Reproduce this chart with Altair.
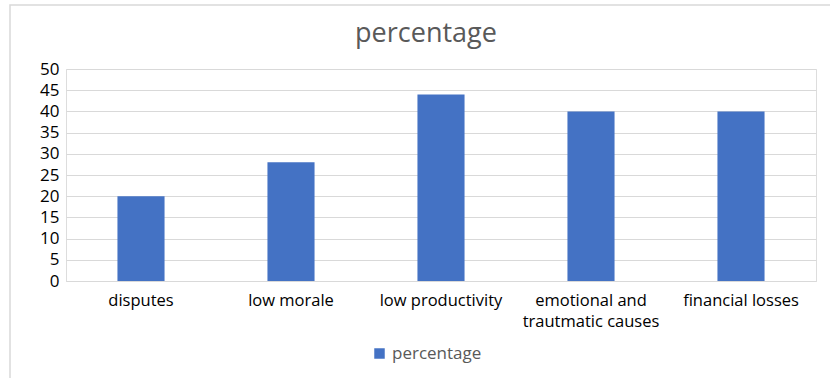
import altair as alt
import pandas as pd

# Share of respondents citing each consequence (%)
categories = ["disputes", "low morale", "low productivity",
              "emotional and trautmatic causes", "financial losses"]
values = [20, 28, 44, 40, 40]
series_name = ["percentage"] * len(categories)

df = pd.DataFrame({"category": categories, "value": values, "series": series_name})

FONT = "Open Sans"
TEXT = "#595959"
GRID = "#d9d9d9"
BLUE = "#4472C4"

bars = alt.Chart(df).mark_bar(color=BLUE).encode(
    x=alt.X(
        "category:N",
        sort=categories,
        title=None,
        scale=alt.Scale(paddingInner=0.686, paddingOuter=0.343),
        axis=alt.Axis(
            labelAngle=0,
            ticks=False,
            domainColor=GRID,
            labelPadding=11,
            labelFontSize=16.5,
            labelFont=FONT,
            labelLineHeight=21,
            labelLimit=200,
            labelExpr="datum.label == 'emotional and trautmatic causes' ? ['emotional and', 'trautmatic causes'] : datum.label",
        ),
    ),
    y=alt.Y(
        "value:Q",
        title=None,
        scale=alt.Scale(domain=[0, 50]),
        axis=alt.Axis(
            values=list(range(0, 51, 5)),
            domain=False,
            ticks=False,
            gridColor=GRID,
            labelPadding=7,
            labelFontSize=17,
            labelFont=FONT,
        ),
    ),
    fill=alt.Fill(
        "series:N",
        scale=alt.Scale(range=[BLUE]),
        legend=alt.Legend(
            title=None,
            orient="none",
            legendX=305,
            legendY=276,
            symbolType="square",
            symbolSize=110,
            symbolStrokeWidth=0,
            labelFontSize=17,
            labelColor=TEXT,
            labelFont=FONT,
            labelOffset=4,
        ),
    ),
)

# Light frame around the whole chart
frame_df = pd.DataFrame({"f": [0]})
frame = alt.Chart(frame_df).mark_rect(fill=None, stroke=GRID, strokeWidth=1.5).encode(
    x=alt.value(-56), x2=alt.value(775), y=alt.value(-64), y2=alt.value(320)
)

chart = (
    alt.layer(frame, bars)
    .properties(
        width=750,
        height=212,
        padding={"left": 66, "top": 69, "right": 14, "bottom": 97},
        autosize=alt.AutoSizeParams(type="none"),
        title=alt.TitleParams(
            "percentage",
            anchor="middle",
            dx=-15,
            dy=66,
            offset=22,
            fontSize=27,
            fontWeight="normal",
            font=FONT,
            color=TEXT,
        ),
    )
    .configure_view(stroke=None)
    .configure_axis(labelFont=FONT, labelColor=TEXT)
    .configure(background="white", font=FONT)
)

chart.save("out.html", embed_options={"renderer": "svg", "actions": False})
